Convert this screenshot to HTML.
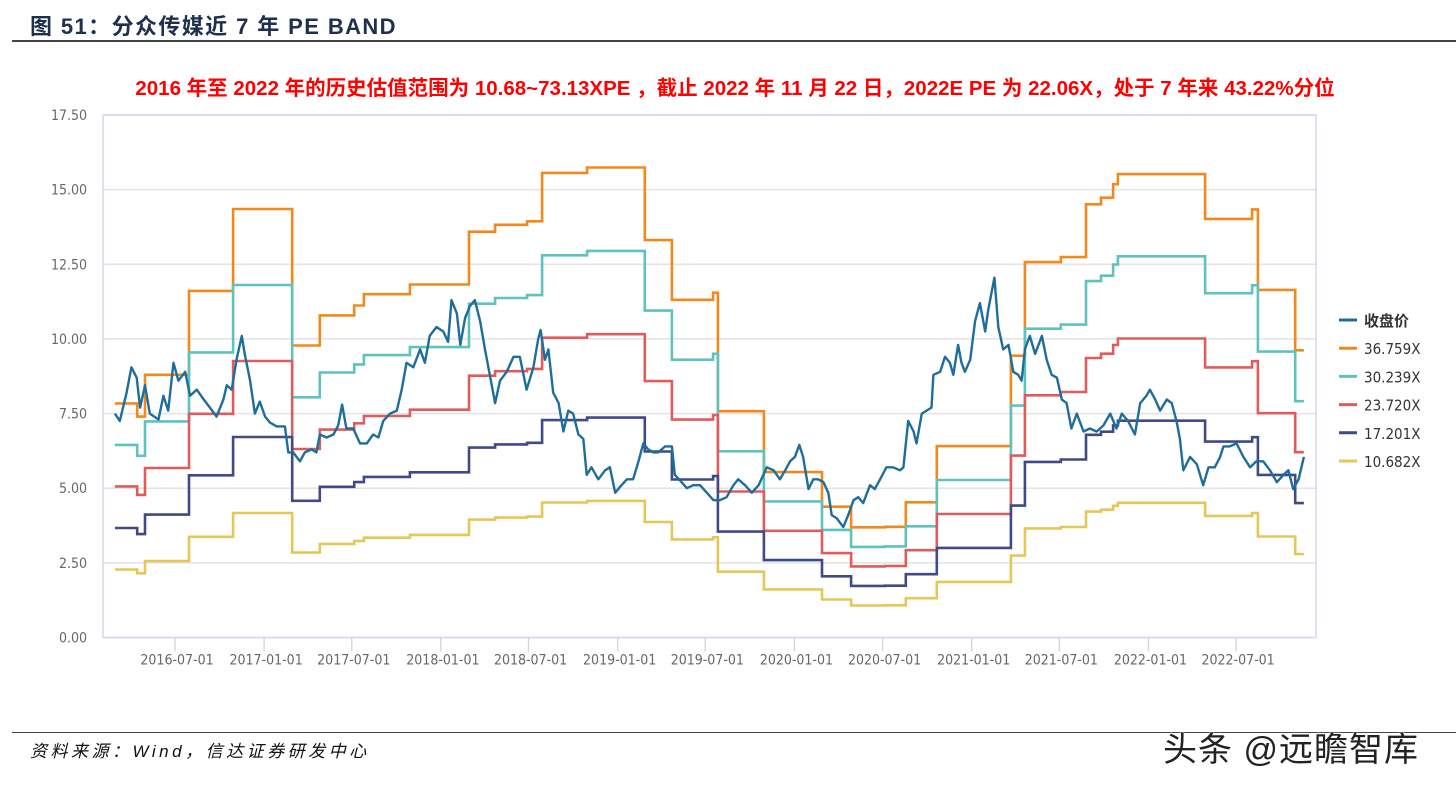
<!DOCTYPE html>
<html><head><meta charset="utf-8">
<style>
body{margin:0;background:#fff;width:1456px;height:785px;overflow:hidden;position:relative;font-family:"Liberation Sans","Noto Sans CJK SC",sans-serif}
.abs{position:absolute}
</style></head><body>
<div class="abs" style="left:30px;top:9px;font-size:22px;font-weight:bold;color:#1e2f4f;letter-spacing:1.4px">图 51：分众传媒近 7 年 PE BAND</div>
<div class="abs" style="left:12px;top:40px;width:1444px;height:2px;background:#444"></div>
<div class="abs" style="left:0;width:1470px;text-align:center;top:71px;font-size:20.5px;font-weight:bold;color:#f00">2016 年至 2022 年的历史估值范围为 10.68~73.13XPE ，截止 2022 年 11 月 22 日，2022E PE 为 22.06X，处于 7 年来 43.22%分位</div>
<svg class="abs" style="left:0;top:0" width="1456" height="785">
<g id="grid"></g><g id="series"></g><g id="axes"></g><g id="legend"></g>
</svg>
<div class="abs" style="left:12px;top:732px;width:1444px;height:1px;background:#444"></div>
<div class="abs" style="left:30px;top:737px;font-size:17px;font-style:italic;color:#111;letter-spacing:3.5px">资料来源：Wind，信达证券研发中心</div>
<div class="abs" style="left:1163px;top:722px;font-size:34px;color:#222;letter-spacing:1px;text-shadow:0 0 2px #fff,0 0 2px #fff">头条 @远瞻智库</div>
<script>
const yTicks=[0,2.5,5,7.5,10,12.5,15,17.5];
const xTickLabels=["2016-07-01","2017-01-01","2017-07-01","2018-01-01","2018-07-01","2019-01-01","2019-07-01","2020-01-01","2020-07-01","2021-01-01","2021-07-01","2022-01-01","2022-07-01"];
const multiples=[36.759,30.239,23.720,17.201,10.682];
const bandNames=["36.759X","30.239X","23.720X","17.201X","10.682X"];
// EPS step changes: days since 2016-07-01 and EPS value
const epsDays=[-124,-78,-62,29,120,242,299,370,390,485,607,661,727,758,851,970,1026,1111,1121,1216,1336,1396,1466,1509,1573,1726,1755,1829,1881,1912,1937,1947,2127,2224,2236,2313];
const epsVals=[0.2133,0.2013,0.2394,0.3158,0.3904,0.2661,0.2935,0.3025,0.3128,0.3216,0.3697,0.3760,0.3792,0.4233,0.4282,0.3621,0.3077,0.3142,0.2062,0.1507,0.1192,0.1004,0.1009,0.1232,0.1744,0.2568,0.3420,0.3466,0.3947,0.4007,0.4130,0.4222,0.3814,0.3901,0.3167,0.2617];
const endDay=2331;
const priceDays=[-124,-114,-100,-90,-79,-72,-62,-52,-34,-24,-14,-3,7,21,31,45,58,72,86,100,107,117,127,138,144,155,165,175,186,196,210,227,234,244,258,268,282,292,299,313,327,337,345,354,368,382,396,409,420,430,444,458,468,478,492,506,516,526,540,554,564,571,582,589,599,609,619,630,640,650,661,
671,685,699,712,726,740,750,755,764,771,781,792,802,812,822,833,843,850,860,874,888,898,909,922,933,946,957,967,977,988,998,1012,1026,1032,1046,1057,1070,1084,1098,1112,1125,1139,1153,1163,1177,1191,1205,1215,1222,1236,1249,1260,1270,1280,1289,1297,1308,1318,1328,1339,1349,1356,1366,1380,1390,1401,1411,1421,1435,1445,1456,1469,1483,
1497,1504,1514,1525,1531,1542,1552,1562,1566,1580,1590,1600,1607,1617,1624,1631,1642,1652,1662,1673,1679,1692,1700,1710,1721,1731,1741,1748,1755,1765,1776,1790,1800,1810,1821,1831,1841,1851,1862,1876,1889,1903,1917,1931,1944,1955,1968,1982,1993,2006,2013,2024,2034,2048,2058,2068,2075,2082,2096,2110,2123,2134,2147,2158,2165,2178,2192,2206,2220,2233,2247,2261,2275,2289,2299,2309,2320,2331];
const priceVals=[7.5,7.25,8.2,9.05,8.7,7.7,8.45,7.5,7.3,8.1,7.6,9.2,8.6,8.9,8.1,8.3,8.0,7.7,7.4,7.97,8.45,8.3,9.3,10.1,9.5,8.6,7.5,7.9,7.4,7.2,7.07,7.07,6.2,6.2,5.9,6.2,6.3,6.2,6.8,6.7,6.8,7.1,7.8,7.0,7.0,6.5,6.5,6.8,6.7,7.25,7.5,7.6,8.3,9.2,9.05,9.65,9.2,10.1,10.4,10.25,9.9,11.3,10.85,9.8,10.7,11.1,11.3,10.6,9.65,8.8,7.85,
8.6,8.9,9.4,9.4,8.3,9.05,10.0,10.3,9.3,9.65,8.2,7.85,6.9,7.6,7.5,6.8,6.65,5.45,5.7,5.3,5.6,5.7,4.85,5.1,5.3,5.3,5.9,6.5,6.3,6.2,6.2,6.4,6.4,5.45,5.2,5.0,5.1,5.1,4.85,4.6,4.6,4.7,5.1,5.3,5.1,4.85,5.1,5.45,5.7,5.6,5.3,5.6,5.9,6.05,6.45,6.05,4.97,5.3,5.3,5.2,4.85,4.1,4.0,3.7,4.1,4.6,4.7,4.5,5.1,4.97,5.3,5.7,5.7,
5.6,5.7,7.25,6.9,6.5,7.5,7.6,7.7,8.8,8.9,9.4,9.2,8.8,9.8,9.2,8.9,9.3,10.6,11.2,10.25,10.95,12.05,10.4,9.65,9.8,8.9,8.8,8.6,9.65,10.1,9.5,10.1,9.3,8.8,8.7,7.97,7.85,7.0,7.5,6.9,7.0,6.9,7.1,7.5,7.0,7.5,7.25,6.8,7.85,8.1,8.3,7.97,7.6,7.97,7.85,7.25,6.65,5.6,6.05,5.8,5.1,5.7,5.7,6.05,6.4,6.4,6.5,6.05,5.7,5.9,5.9,5.6,5.2,5.45,5.6,4.97,5.3,6.05];
const NS="http://www.w3.org/2000/svg";
const L=103,R=1316,T=115,B=637.5;
const xS=d=>175+d*0.4843;
const yS=v=>B-(v/17.5)*(B-T);
function mk(tag,attrs,parent){const e=document.createElementNS(NS,tag);for(const k in attrs)e.setAttribute(k,attrs[k]);parent.appendChild(e);return e;}
const grid=document.getElementById('grid'),axes=document.getElementById('axes'),series=document.getElementById('series'),legend=document.getElementById('legend');
yTicks.forEach(v=>{
 const g=mk('line',{x1:L,x2:R,y1:yS(v),y2:yS(v),stroke:'#e3e3e6','stroke-width':1.5},grid);
 
 
 const t=mk('text',{x:87,y:yS(v)+5,'text-anchor':'end','font-size':14,fill:'#666','font-family':'DejaVu Sans Condensed, Liberation Sans, sans-serif'},axes);
 t.textContent=v.toFixed(2);
 
 
});
const frame=mk('rect',{x:L,y:T,width:R-L,height:B-T,fill:'none',stroke:'#d3d8e6','stroke-width':1.5},axes);


const base=new Date('2016-07-01T00:00:00Z');
xTickLabels.forEach(s=>{
 const d=(new Date(s+'T00:00:00Z')-base)/86400000;
 const x=xS(d);
 const tk=mk('line',{x1:x,x2:x,y1:B,y2:B+14,stroke:'#d3d8e6','stroke-width':1.5},axes);
 
 
 const t=mk('text',{x:x+2,y:B+27,'text-anchor':'middle','font-size':14,fill:'#666','font-family':'DejaVu Sans Condensed, Liberation Sans, sans-serif'},axes);
 t.textContent=s;
 
 
});
const colors=['#f08a1c','#5ec2bf','#e05c5c','#3f4a86','#e5c758'];
multiples.forEach((m,i)=>{
 let p='';
 epsVals.forEach((e,j)=>{const x0=xS(epsDays[j]),x1=xS(j+1<epsDays.length?epsDays[j+1]:endDay),y=yS(e*m);p+=(j?'L':'M')+x0.toFixed(1)+','+y.toFixed(1)+'L'+x1.toFixed(1)+','+y.toFixed(1);});
 const pl=mk('path',{d:p,fill:'none',stroke:colors[i],'stroke-width':2.6},series);
 
 
});
let pp='';
priceVals.forEach((v,i)=>{pp+=(i?'L':'M')+xS(priceDays[i]).toFixed(1)+','+yS(v).toFixed(1);});
const pl=mk('path',{d:pp,fill:'none',stroke:'#1f6d9b','stroke-width':2.4,'stroke-linejoin':'round'},series);


const legNames=['收盘价'].concat(bandNames),legCols=['#1f6d9b'].concat(colors);
legNames.forEach((n,i)=>{
 const y=320+i*28.2;
 const ln=mk('line',{x1:1339,x2:1357,y1:y,y2:y,stroke:legCols[i],'stroke-width':3},legend);
 
 
 const t=mk('text',{x:1364,y:y+6,'font-size':15,fill:'#333','font-weight':i?'normal':'bold','font-family':'DejaVu Sans Condensed, Liberation Sans, Noto Sans CJK SC, sans-serif'},legend);
 t.textContent=n;
 
 
});
</script>
</body></html>
